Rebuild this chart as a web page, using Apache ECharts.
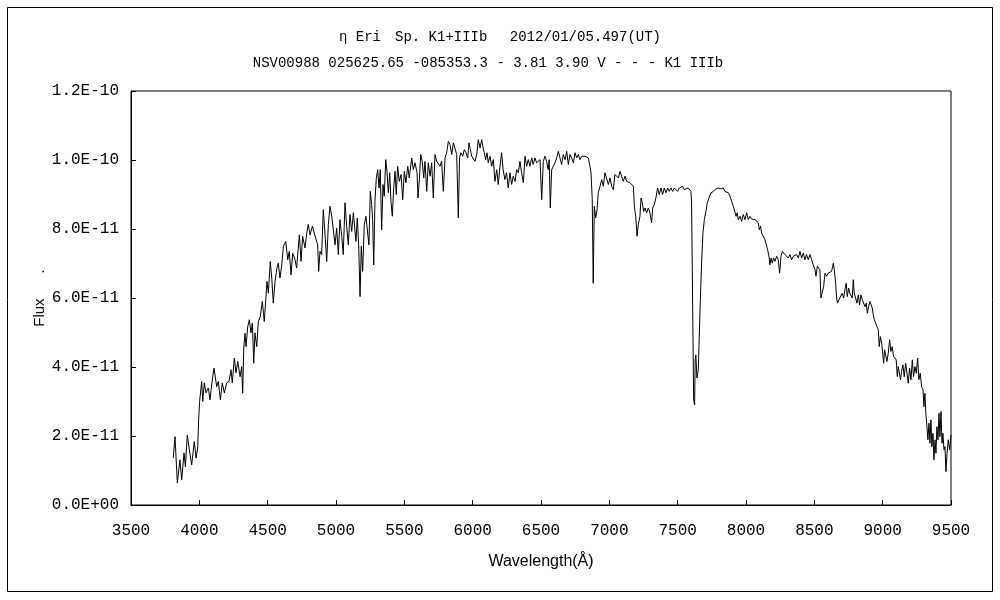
<!DOCTYPE html>
<html><head><meta charset="utf-8">
<script src="https://cdn.jsdelivr.net/npm/echarts/dist/echarts.min.js"></script>
<style>html,body{margin:0;padding:0;background:#fff}#c{width:1000px;height:600px}</style>
</head><body><div id="c"></div>
<script>
const titleLine1 = 'η Eri\u3000Sp. K1+IIIb\u3000 2012/01/05.497(UT)';
const titleLine2 = 'NSV00988 025625.65 -085353.3 - 3.81 3.90 V - - - K1 IIIb';
const xAxisName = 'Wavelength(Å)';
const yAxisName = 'Flux      .';
const yTickLabels = ['0.0E+00','2.0E-11','4.0E-11','6.0E-11','8.0E-11','1.0E-10','1.2E-10'];

// Wavelength in Angstrom
const wavelength = [
3809,3822,3839,3858,3871,3888,3898,3912,3927,3944,3963,3976,3988,3995,4002,4017,4025,4036,4049,4066,4078,4090,4107,4120,4127,4139,4154,4168,4183,4200,4217,4232,4241,4256,4268,4281,4298,4310,4317,4325,4334,4342,4354,4366,4378,4388,4398,4407,4420,4432,4446,4461,4475,4486,4495,4505,4519,4530,4541,4554,4568,4578,4590,4603,4615,4632,4647,4658,4671,4683,4700,4712,
4732,4744,4756,4773,4786,4797,4810,4827,4841,4854,4866,4873,4883,4895,4907,4920,4932,4944,4956,4969,4980,4993,5005,5017,5029,5042,5053,5066,5078,5090,5102,5115,5127,5139,5146,5156,5166,5176,5185,5195,5207,5219,5232,5241,5251,5261,5268,5276,5285,5295,5305,5315,5324,5334,5344,5353,5364,5373,5383,5393,5402,5412,5422,5432,5441,5451,5463,5476,5488,5500,5512,5525,5536,5554,5566,5578,5593,5600,5610,5620,5631,5642,5651,
5664,5675,5688,5700,5712,5724,5737,5749,5761,5773,5785,5798,5810,5822,5834,5847,5859,5871,5883,5895,5904,5914,5927,5939,5951,5964,5973,5983,5993,6005,6017,6030,6041,6054,6066,6077,6085,6095,6105,6114,6127,6139,6151,6163,6176,6187,6200,6212,6223,6236,6248,6260,6273,6285,6297,6310,6322,6334,6346,6358,6371,6383,6395,6407,6419,6432,6443,6456,6468,6480,6493,6505,6517,6529,6541,6553,6560,6568,6578,6590,6602,6615,6627,
6639,6651,6663,6676,6688,6700,6712,6724,6737,6749,6761,6773,6785,6798,6810,6822,6834,6846,6858,6866,6875,6882,6890,6900,6910,6919,6932,6944,6956,6968,6981,6993,7005,7017,7029,7041,7054,7066,7078,7090,7102,7115,7127,7139,7151,7164,7176,7183,7193,7203,7212,7224,7232,7241,7251,7261,7273,7285,7297,7309,7317,7329,7341,7353,7365,7378,7390,7402,7414,7427,7438,7451,7463,7475,7487,7500,7512,7524,7536,7548,
7578,7597,7602,7607,7612,7617,7624,7628,7633,7641,7651,7658,7666,7675,7685,7695,7707,7717,7729,7744,7761,7778,7797,7817,7834,7846,7859,7871,7883,7895,7907,7919,7927,7936,7944,7956,7968,7980,7993,8005,8017,8029,8041,8053,8066,8078,8090,8097,8107,8114,8127,8139,8151,8158,8168,8175,8183,8192,8202,8212,8224,8236,8246,8256,8266,8275,8285,8297,8309,8322,8334,8346,8358,8370,8383,8395,8407,8419,8431,8443,8456,8468,8480,8492,8505,8512,8522,8534,
8541,8548,8558,8568,8578,8590,8602,8614,8626,8639,8646,8656,8663,8670,8680,8692,8704,8714,8724,8733,8741,8751,8760,8768,8777,8785,8792,8802,8812,8822,8831,8841,8851,8861,8871,8880,8888,8897,8907,8917,8924,8931,8939,8949,8958,8968,8975,8983,8993,9000,9007,9014,9022,9031,9041,9051,9060,9070,9080,9090,9099,9107,9114,9124,9131,9138,9148,9158,9168,9178,9187,9197,9207,9217,9226,9236,9246,9256,9265,9275,9285,9295,9302,9309,9316,9324,9331,9339,9346,9353,9360,9368,9375,9383,9390,9397,9405,9412,9419,9427,9434,9441,9449,9456,9463,9471,9480,9490,9500
];

// Flux in units of 1E-11
const fluxE11 = [
1.36,1.98,0.64,1.31,0.73,1.51,1.11,2.03,1.6,1.16,1.84,1.36,1.65,2.47,3.0,3.58,3.0,3.54,3.25,3.39,3.05,3.48,3.97,3.97,3.43,3.58,3.05,3.54,3.25,3.54,3.58,3.92,3.54,4.26,3.83,4.16,3.72,4.01,3.24,4.55,4.98,4.59,5.17,5.37,4.99,5.27,4.11,4.99,4.59,5.32,5.46,5.9,5.32,5.95,6.48,6.14,7.06,6.58,5.85,6.48,6.87,7.01,6.58,6.96,7.5,7.64,7.11,7.35,6.67,7.3,7.11,6.87,
7.83,7.06,7.79,7.45,7.88,8.13,7.83,8.08,7.88,7.93,7.54,6.77,7.35,7.26,8.56,7.83,7.06,8.13,8.66,8.37,8.42,7.54,8.03,7.26,8.27,7.79,7.26,8.76,8.08,7.54,8.42,7.93,8.47,8.47,7.64,8.32,7.54,6.04,7.5,6.77,8.13,8.37,8.42,7.54,9.09,8.71,8.27,6.96,8.8,9.48,9.72,9.19,9.72,7.98,9.29,8.95,10.01,9.67,9.05,9.63,8.8,8.37,9.19,9.67,9.0,9.82,9.38,9.58,8.85,9.67,9.34,9.82,9.48,10.06,9.72,9.92,9.63,8.9,9.43,10.16,9.96,9.48,9.96,
9.09,9.92,9.53,9.92,8.9,10.16,9.96,10.01,9.82,9.96,9.09,10.06,10.21,10.54,10.45,10.16,10.5,10.54,10.16,8.32,10.06,10.21,10.11,10.3,10.21,10.06,10.5,10.3,10.11,10.16,9.96,10.16,10.59,10.35,10.59,10.35,10.21,10.01,10.21,9.92,10.11,9.82,10.01,9.38,9.72,9.29,9.82,10.21,9.72,9.43,9.63,9.19,9.63,9.29,9.53,9.38,9.72,9.63,9.96,9.63,9.34,10.11,9.82,10.01,9.82,10.06,9.87,10.06,9.92,9.96,10.01,8.85,9.96,10.11,9.96,9.72,10.01,8.61,9.72,9.77,9.92,10.06,10.25,
10.21,9.87,10.16,10.01,10.25,9.87,10.16,10.06,9.92,10.21,10.06,10.16,10.01,10.11,10.06,10.11,10.16,10.06,9.82,9.63,8.85,6.43,8.66,8.32,8.56,9.05,9.24,9.43,9.24,9.63,9.67,9.29,9.48,9.24,9.14,9.58,9.63,9.48,9.67,9.53,9.38,9.53,9.38,9.34,9.34,9.34,9.24,8.66,8.37,7.79,8.13,8.37,8.9,8.76,8.51,8.61,8.47,8.61,8.47,8.18,8.61,8.71,8.9,9.19,9.0,9.19,9.0,9.19,9.05,9.19,9.09,9.19,9.09,9.19,9.14,9.09,9.19,9.14,9.24,9.14,
9.19,9.09,8.76,6.82,4.88,3.05,2.9,4.21,4.35,3.68,3.92,4.88,5.95,7.01,7.88,8.27,8.51,8.76,8.9,9.05,9.09,9.16,9.19,9.16,9.19,9.09,9.05,9.05,8.95,8.8,8.66,8.61,8.37,8.47,8.27,8.37,8.22,8.42,8.27,8.47,8.27,8.37,8.29,8.32,8.27,8.32,8.18,7.98,8.08,7.88,7.93,7.69,7.64,7.4,7.21,6.96,7.16,7.01,7.16,7.06,7.21,7.11,6.72,7.21,7.35,7.4,7.26,7.3,7.16,7.26,7.11,7.21,7.16,7.26,7.16,7.35,7.16,7.3,7.11,7.26,7.11,7.26,7.11,6.96,6.82,6.63,6.92,6.87,
6.82,6.0,6.04,6.33,6.72,6.63,6.72,6.72,6.77,7.01,6.82,6.43,6.0,5.85,5.95,6.0,6.14,6.0,6.24,6.43,6.04,6.29,6.14,6.19,6.0,6.53,6.14,6.0,5.85,6.09,5.8,6.09,5.95,6.0,5.75,5.85,5.56,5.75,5.9,5.95,5.71,5.51,5.37,5.32,5.17,5.08,4.59,4.88,4.69,4.4,4.11,4.5,4.35,4.16,4.4,4.79,4.45,4.59,4.3,4.35,4.21,3.72,4.01,4.06,3.63,3.87,4.06,3.72,4.11,3.82,3.53,3.97,3.63,4.21,3.72,4.01,3.82,4.26,3.63,3.82,3.43,3.34,2.85,3.24,2.66,2.27,1.89,2.37,1.79,2.47,1.69,2.08,1.31,1.89,1.5,2.27,1.89,2.66,1.98,2.71,1.79,2.08,1.6,1.69,0.97,1.5,1.89,1.6,2.03
];

const seriesData = wavelength.map((w, i) => [w, fluxE11[i]]);

const chart = echarts.init(document.getElementById('c'), null, {renderer: 'canvas'});
const monoFont = 'Liberation Mono';
const sansFont = 'Liberation Sans';
chart.setOption({
  animation: false,
  backgroundColor: '#fff',
  graphic: [
    {type: 'rect', silent: true, z: 0,
     shape: {x: 7.5, y: 7.5, width: 985, height: 584},
     style: {fill: 'none', stroke: '#000', lineWidth: 1}},
    {type: 'text', silent: true, x: 500, y: 30,
     style: {text: titleLine1, textAlign: 'center', textVerticalAlign: 'top', font: '14px ' + monoFont, fill: '#000'}},
    {type: 'text', silent: true, x: 488, y: 56,
     style: {text: titleLine2, textAlign: 'center', textVerticalAlign: 'top', font: '14px ' + monoFont, fill: '#000'}}
  ],
  grid: {left: 131, right: 49, top: 91, bottom: 95, show: true, borderColor: '#000', borderWidth: 1, backgroundColor: '#fff'},
  xAxis: {
    type: 'value', min: 3500, max: 9500, interval: 500,
    name: xAxisName, nameLocation: 'middle', nameGap: 49,
    nameTextStyle: {color: '#000', fontSize: 16, fontFamily: sansFont},
    axisLine: {show: true, lineStyle: {color: '#000', width: 1}},
    axisTick: {show: true, inside: true, length: 5, lineStyle: {color: '#000'}},
    axisLabel: {color: '#000', fontSize: 16, fontFamily: monoFont, margin: 18, formatter: v => String(v)},
    splitLine: {show: false}
  },
  yAxis: {
    type: 'value', min: 0, max: 12, interval: 2,
    name: yAxisName, nameLocation: 'middle', nameGap: 84, nameRotate: 90, nameMoveOverlap: false,
    nameTextStyle: {color: '#000', fontSize: 15, fontFamily: sansFont},
    axisLine: {show: true, lineStyle: {color: '#000', width: 1}},
    axisTick: {show: true, inside: true, length: 5, lineStyle: {color: '#000'}},
    axisLabel: {color: '#000', fontSize: 16, fontFamily: monoFont, margin: 12,
      formatter: v => yTickLabels[Math.round(v / 2)]},
    splitLine: {show: false}
  },
  series: [{
    type: 'line', data: seriesData, showSymbol: false, symbol: 'none',
    lineStyle: {color: '#000', width: 1}, silent: true
  }]
});
</script>
</body></html>
